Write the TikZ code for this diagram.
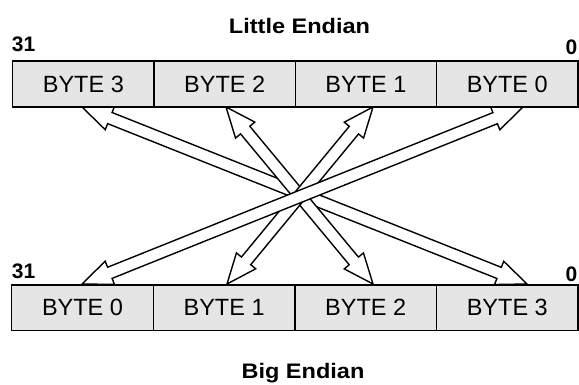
\documentclass[tikz,border=0pt]{standalone}
\usepackage{fontspec}
\setmainfont{Liberation Sans}
\usetikzlibrary{calc}

\newcommand{\ahl}{30pt}% head length
\newcommand{\ahw}{12.5pt}% head half width
\newcommand{\asw}{6pt}% shaft half width

\tikzset{
  bytecell/.style={draw, fill=black!10, line width=1.4pt, inner sep=0pt,
    minimum height=46pt, font=\fontsize{23.5}{28}\selectfont},
  bitno/.style={inner sep=0pt, font=\fontsize{21}{25}\selectfont\bfseries},
  endiantitle/.style={inner sep=0pt, xscale=1.12, font=\fontsize{21}{25}\selectfont\bfseries},
  hollow arrow/.style={draw, fill=white, line width=1.4pt, line join=miter,
    to path={
      -- ($(\tikztostart)!\ahl!(\tikztotarget)!\ahw!90:(\tikztotarget)$)
      -- ($(\tikztostart)!\ahl!(\tikztotarget)!\asw!90:(\tikztotarget)$)
      -- ($(\tikztotarget)!\ahl!(\tikztostart)!\asw!-90:(\tikztostart)$)
      -- ($(\tikztotarget)!\ahl!(\tikztostart)!\ahw!-90:(\tikztostart)$)
      -- (\tikztotarget)
      -- ($(\tikztotarget)!\ahl!(\tikztostart)!\ahw!90:(\tikztostart)$)
      -- ($(\tikztotarget)!\ahl!(\tikztostart)!\asw!90:(\tikztostart)$)
      -- ($(\tikztostart)!\ahl!(\tikztotarget)!\asw!-90:(\tikztotarget)$)
      -- ($(\tikztostart)!\ahl!(\tikztotarget)!\ahw!-90:(\tikztotarget)$)
      -- cycle}}
}

\begin{document}
\begin{tikzpicture}[x=1pt,y=1pt]
  \useasboundingbox (0,0) rectangle (579,385);

  % arrow ends
  \coordinate (lt3) at (82,278);  \coordinate (bt3) at (527,101);
  \coordinate (lt2) at (226,278); \coordinate (bt2) at (373,101);
  \coordinate (lt1) at (373,278); \coordinate (bt1) at (227,101);
  \coordinate (lt0) at (523,278); \coordinate (bt0) at (82,101);

  \path[hollow arrow] (lt3) to (bt3);
  \path[hollow arrow] (lt2) to (bt2);
  \path[hollow arrow] (lt1) to (bt1);
  \path[hollow arrow] (lt0) to (bt0);

  % little endian word
  \begin{scope}[every node/.style={bytecell, minimum width=141.3pt}]
    \node (l3) at (83.35,301)  {BYTE 3};
    \node (l2) at (224.65,301) {BYTE 2};
    \node (l1) at (365.95,301) {BYTE 1};
    \node (l0) at (507.25,301) {BYTE 0};
  \end{scope}

  % big endian word
  \begin{scope}[every node/.style={bytecell, minimum width=141.6pt, minimum height=45.7pt}]
    \node (b0) at (82.5,77.2)  {BYTE 0};
    \node (b1) at (224.1,77.2) {BYTE 1};
    \node (b2) at (365.7,77.2) {BYTE 2};
    \node (b3) at (507.3,77.2) {BYTE 3};
  \end{scope}

  \node[bitno, anchor=base west] (lmsb) at (11.7,333)   {31};
  \node[bitno, anchor=base east] (llsb) at (577.5,330)  {0};
  \node[bitno, anchor=base west] (bmsb) at (11.7,106.7) {31};
  \node[bitno, anchor=base east] (blsb) at (577.5,103.3) {0};

  \node[endiantitle, anchor=base] (ltitle) at (299.5,351.7) {Little Endian};
  \node[endiantitle, anchor=base] (btitle) at (303,6.7)     {Big Endian};

\end{tikzpicture}
\end{document}
